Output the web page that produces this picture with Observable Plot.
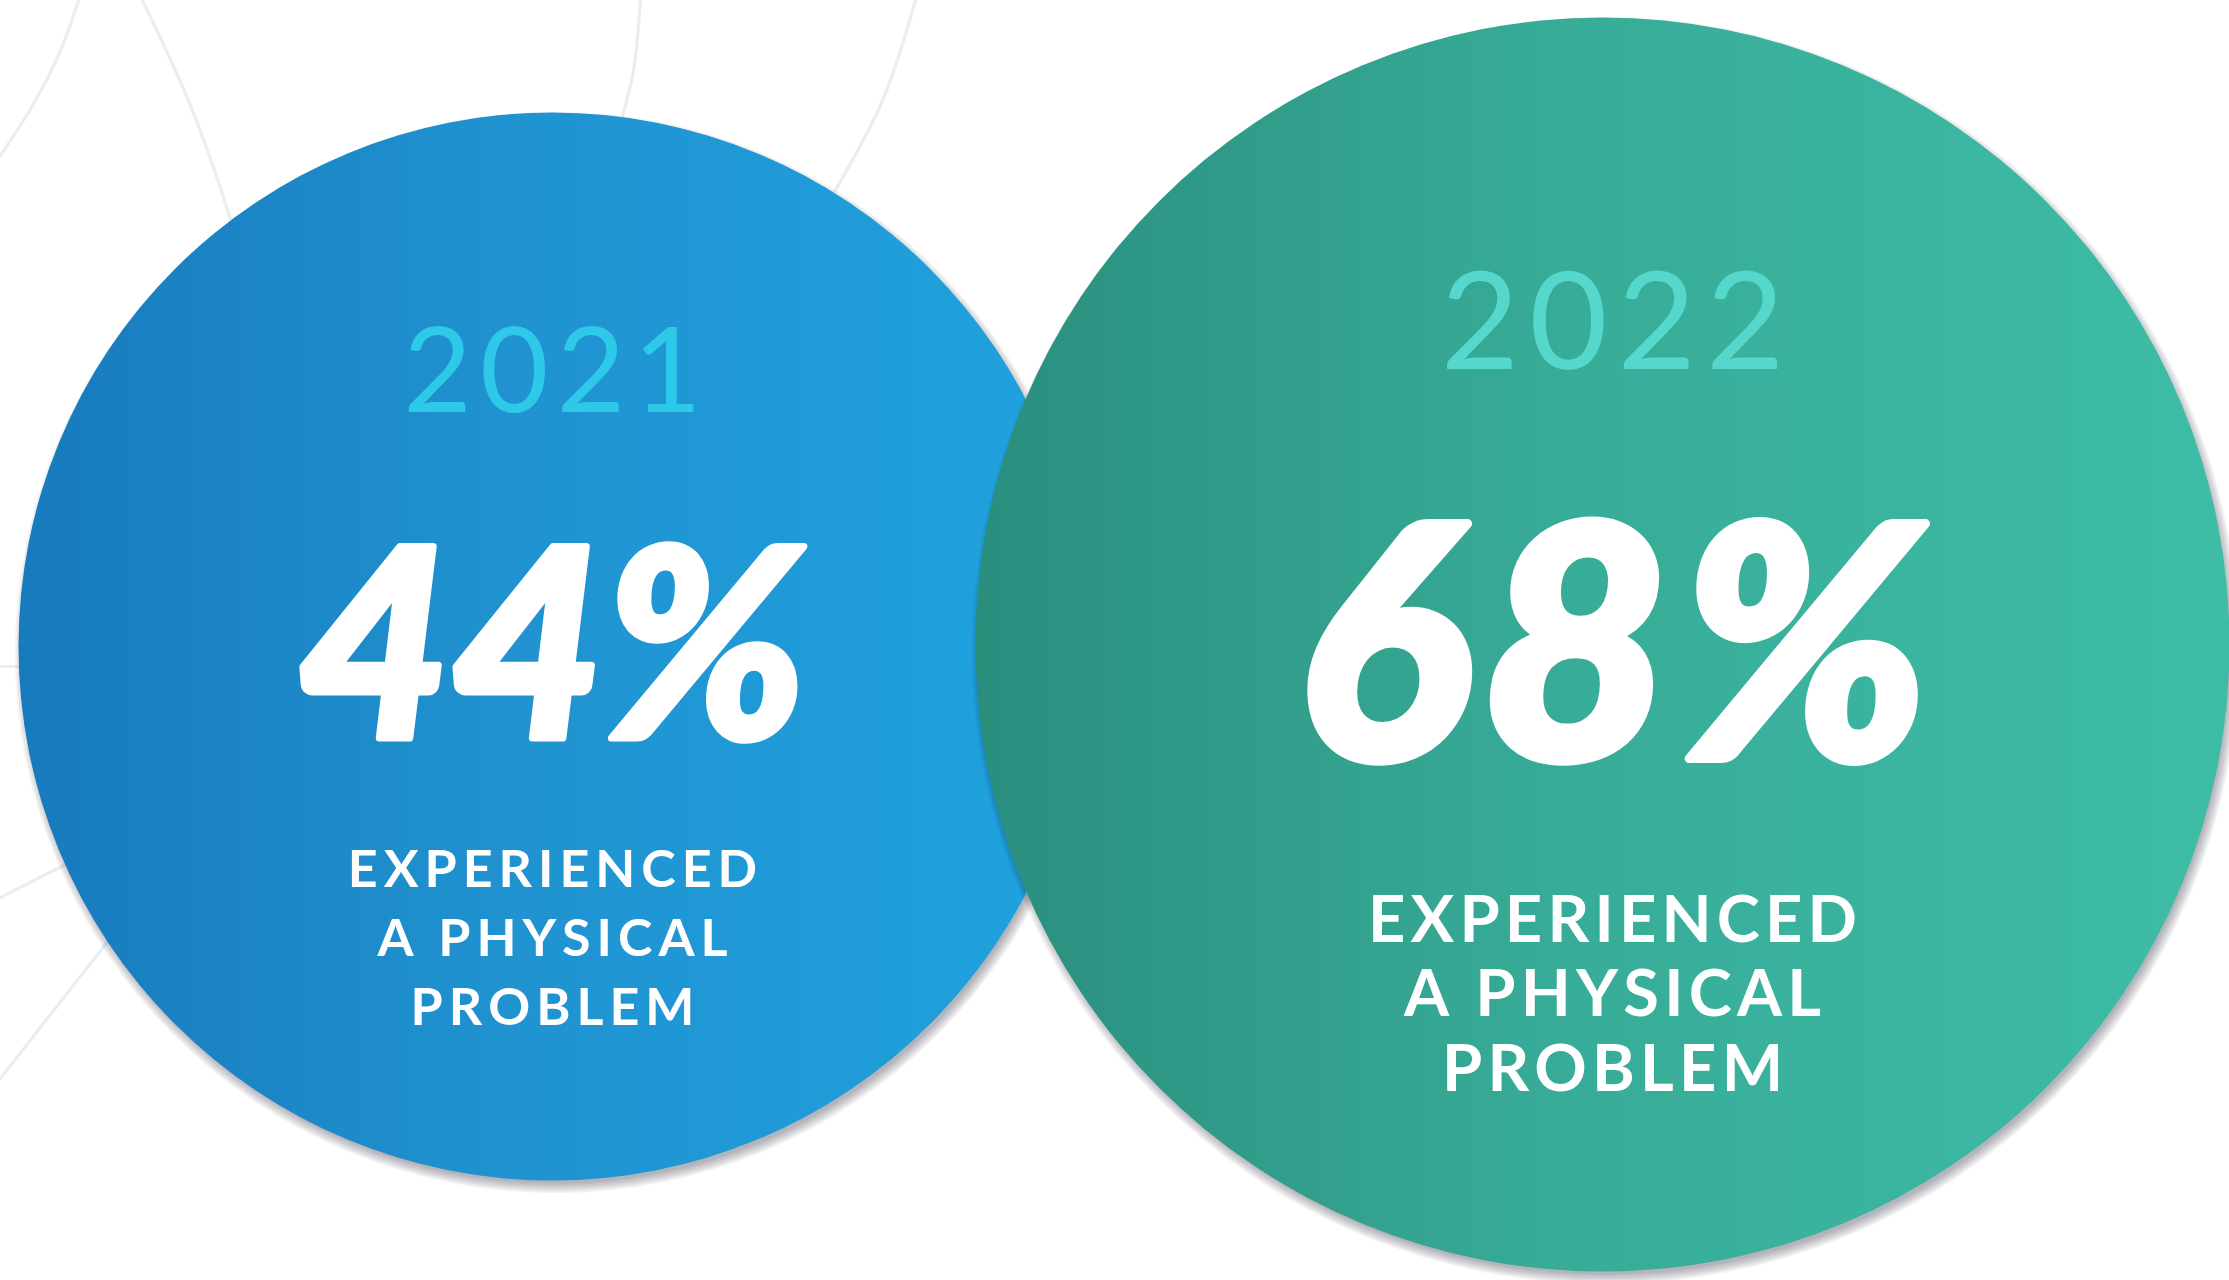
<!DOCTYPE html>
<html>
<head>
<meta charset="utf-8">
<script src="https://cdn.jsdelivr.net/npm/d3@7"></script>
<script src="https://cdn.jsdelivr.net/npm/@observablehq/plot@0.6"></script>
<style>
  html, body { margin: 0; padding: 0; background: #ffffff; overflow: hidden; }
  #chart svg { display: block; }
</style>
</head>
<body>
<div id="chart"></div>
<script>
// ---- data ----
const years = ["2021", "2022"];
const shares = [44, 68];
const captions = ["EXPERIENCED\nA PHYSICAL\nPROBLEM", "EXPERIENCED\nA PHYSICAL\nPROBLEM"];

// faint background arcs
const arcIds = ["a", "a", "a", "a", "b", "b", "b", "b", "c", "c", "c", "c", "d", "d", "d", "d", "e", "e", "f", "f", "f", "g", "g", "g", "g"];
const arcX =   [78, 60, 35, 0, 142, 190, 232, 250, 640, 633, 622, 615, 915, 882, 833, 800, 0, 40, 0, 65, 110, 0, 50, 108, 140];
const arcY =   [0, 50, 100, 155, 0, 105, 225, 290, 0, 70, 117, 150, 0, 100, 193, 245, 666, 666, 897, 864, 842, 1078, 1014, 940, 900];

// ---- layout (pixels, kept apart from the data) ----
const W = 2229, H = 1280;
const layout = [
  {cx: 552, cy: 646, r: 534, tx: 552, yeary: 328, yearsize: 118, yearLS: 0.07, pcty: 550, pctsize: 264, pctLS: 0, pctStroke: 7,
   capy: 850, capsize: 52, capLH: 1.32, capLS: 0.115, grad: "url(#gradBlue)", yearcolor: "#2ec8e8", tracked: false},
  {cx: 1602, cy: 644, r: 627, tx: 1612, yeary: 273, yearsize: 135, yearLS: 0.075, pcty: 528, pctsize: 324, pctLS: 0.037, pctStroke: 9,
   capy: 895, capsize: 65, capLH: 1.15, capLS: 0.08, grad: "url(#gradGreen)", yearcolor: "#55d8cb", tracked: true}
];
const shadowSteps = [0, 1, 2, 3, 4, 5, 6];

const rows = years.map((y, i) => ({year: y, pct: shares[i] + "%", caption: captions[i], ...layout[i]}));
const arcs = arcIds.map((id, i) => ({id, x: arcX[i], y: arcY[i]}));

const font = "Lato, 'Open Sans', sans-serif";

// glyph-by-glyph placement so that the wide tracking of the original is kept
const ctx = document.createElement("canvas").getContext("2d");
function spread(str, {x, y, size, weight, style = "normal", ls}) {
  ctx.font = `${style} ${weight} ${size}px Lato`;
  const chars = Array.from(str);
  const adv = chars.map(c => ctx.measureText(c).width);
  const total = d3.sum(adv) + ls * size * (chars.length - 1);
  let cur = x - total / 2;
  return chars.map((c, k) => {
    const gx = cur + adv[k] / 2;
    cur += adv[k] + ls * size;
    return {ch: c, x: gx, y, size};
  });
}
const yearGlyphs = rows.flatMap(r => spread(r.year, {x: r.tx, y: r.yeary, size: r.yearsize, weight: 400, ls: r.yearLS})
  .map(g => ({...g, color: r.yearcolor})));
const captionGlyphs = rows.flatMap(r => r.caption.split("\n").flatMap((line, li) =>
  spread(line, {x: r.tx, y: r.capy + li * r.capLH * r.capsize, size: r.capsize, weight: 700, ls: r.capLS})));
const pctGlyphs = rows.filter(r => r.tracked).flatMap(r =>
  spread(r.pct, {x: r.tx, y: r.pcty, size: r.pctsize, weight: 700, style: "italic", ls: r.pctLS}).map(g => ({...g, sw: r.pctStroke})));
const pctPlain = rows.filter(r => !r.tracked);

const disc = (i) => [
  // soft shadow built from stacked translucent discs
  Plot.dot(shadowSteps.map(k => ({...rows[i], sr: rows[i].r - 3 + k * 1.6})),
    {x: "cx", y: "cy", r: "sr", dx: 3, dy: 6, fill: "#1a1a2a", fillOpacity: 0.05, stroke: null, ariaLabel: "shadow"}),
  Plot.dot(rows.slice(i, i + 1), {x: "cx", y: "cy", r: "r", fill: "grad", stroke: null, ariaLabel: "disc"})
];

const plot = Plot.plot({
  width: W,
  height: H,
  margin: 0,
  x: {domain: [0, W], range: [0, W], axis: null},
  y: {domain: [0, H], range: [0, H], axis: null},
  r: {type: "identity"},
  color: {type: "identity"},
  style: {background: "#ffffff", overflow: "hidden"},
  marks: [
    Plot.line(arcs, {x: "x", y: "y", z: "id", curve: "catmull-rom", stroke: "#ebedf5", strokeWidth: 3.2}),
    ...disc(0),
    ...disc(1),
    Plot.text(yearGlyphs, {x: "x", y: "y", text: "ch", fontSize: "size", fill: "color",
      fontFamily: font, fontWeight: 400, lineAnchor: "top", textAnchor: "middle", ariaLabel: "year"}),
    Plot.text(pctPlain, {x: "tx", y: "pcty", text: "pct", fontSize: "pctsize", fill: "#ffffff",
      stroke: "#ffffff", strokeWidth: layout[0].pctStroke, strokeLinejoin: "round",
      fontFamily: font, fontWeight: 900, fontStyle: "italic", lineAnchor: "top", textAnchor: "middle", ariaLabel: "pct"}),
    Plot.text(pctGlyphs, {x: "x", y: "y", text: "ch", fontSize: "size", fill: "#ffffff",
      stroke: "#ffffff", strokeWidth: layout[1].pctStroke, strokeLinejoin: "round",
      fontFamily: font, fontWeight: 900, fontStyle: "italic", lineAnchor: "top", textAnchor: "middle", ariaLabel: "pct"}),
    Plot.text(captionGlyphs, {x: "x", y: "y", text: "ch", fontSize: "size", fill: "#ffffff",
      fontFamily: font, fontWeight: 700, lineAnchor: "top", textAnchor: "middle", ariaLabel: "caption"})
  ]
});

// gradients
const svg = d3.select(plot);
const defs = svg.insert("defs", ":first-child");
function grad(id, stops) {
  const g = defs.append("linearGradient").attr("id", id).attr("x1", "0").attr("x2", "1").attr("y1", "0").attr("y2", "0");
  stops.forEach(([o, c]) => g.append("stop").attr("offset", o).attr("stop-color", c));
}
grad("gradBlue", [[0, "#177abc"], [0.45, "#2092d0"], [1, "#1fa3de"]]);
grad("gradGreen", [[0, "#2a8e7d"], [0.45, "#37ab97"], [1, "#3ebda6"]]);

document.getElementById("chart").append(plot);
</script>
</body>
</html>
